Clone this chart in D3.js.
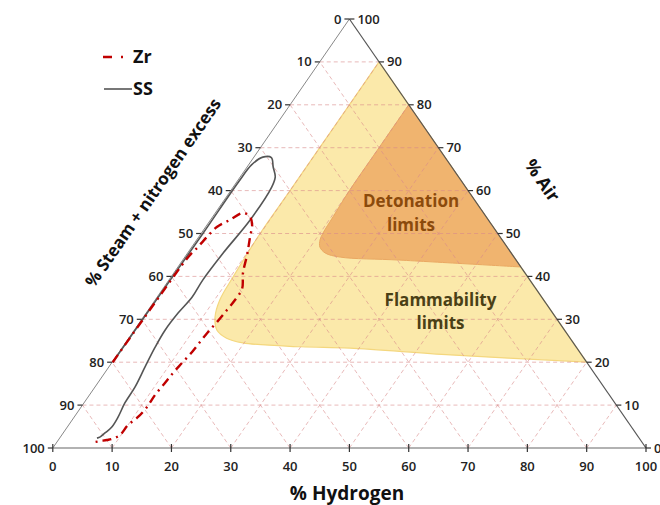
<!DOCTYPE html>
<html><head><meta charset="utf-8">
<script src="https://cdn.jsdelivr.net/npm/d3@7"></script>
<style>body{margin:0;background:#fff}svg{display:block}</style>
</head><body>
<script>
// ---- data (percent: [hydrogen, air]) ----
const tickValues = [0,10,20,30,40,50,60,70,80,90,100];
const gridLevels = [10,20,30,40,50,60,70,80,90];
const ssCurve = [[0.1,20],[0.2,35],[0.3,50],[0.3,62],[0.5,66],[1.5,67.8],[3.0,67.7],[4.4,65.5],[5.9,63.2],[6.5,60.8],[6.7,53.2],[6.0,45.5],[5.7,39.2],[5.9,35.2],[5.4,31.5],[5.2,27.5],[5.5,23.5],[6.1,18.9],[6.75,14.2],[6.9,10.5],[7.4,7.2],[7.5,4.9],[7.05,3.5],[6.7,2.6],[6.3,2.3]];
const zrCurve = [[0.1,20],[0.2,28],[0.3,35],[0.45,42.7],[0.64,45],[1.04,46.9],[1.4,49.2],[1.9,51.5],[3.3,53.2],[4.7,54.8],[6.3,53.9],[7.6,52],[8.65,49.2],[10.25,45],[11.66,40.8],[13.36,37.1],[13.46,34.5],[13.28,32.2],[13.0,29.4],[12.64,27],[12.46,24.7],[12.28,22.4],[11.87,19.8],[11.52,17.5],[11.33,15.15],[11.05,12.35],[11.1,9.56],[10.75,7.23],[10.0,5.36],[9.8,3.0],[8.9,2.1],[8.2,1.86],[7.3,1.63],[6.4,1.4]];
const flammabilityLimits = [[10,90],[10,80],[10,70],[10,60],[9.95,50],[10.45,40],[10.9,34.5],[12.1,30.5],[13.9,27.5],[16.5,25.6],[19.8,24.5],[30,23.6],[38.4,23.3],[56.2,21.7],[80,20]];
const detonationLimits = [[20,80],[20,70],[20,60],[20.3,53.9],[20.5,50.1],[20.8,48.5],[21.6,46.85],[23.2,45.45],[26.2,44.5],[36.6,43.8],[57.8,42.2]];
const legendItems = ["Zr","SS"];
const regionLabels = [["Detonation","limits"],["Flammability","limits"]];
const axisTitles = ["% Hydrogen","% Air","% Steam + nitrogen excess"];

const W=660,H=505;
const FONT = "'Open Sans', 'Noto Sans', sans-serif";
const svg = d3.select("body").append("svg").attr("width",W).attr("height",H)
  .style("font-family",FONT);
const hScale = d3.scaleLinear().domain([0,100]).range([52.8,646]);
const aScale = d3.scaleLinear().domain([0,100]).range([448,19]);
const P = d => [hScale(d[0] + d[1]/2), aScale(d[1])];
const lineLin = d3.line().x(d=>P(d)[0]).y(d=>P(d)[1]);
const lineCurve = d3.line().x(d=>P(d)[0]).y(d=>P(d)[1]).curve(d3.curveCatmullRom.alpha(0.5));

// regions
svg.append("path").attr("d", lineCurve(flammabilityLimits)+"Z")
  .attr("fill","#fbe9aa").attr("stroke","#f4d77e").attr("stroke-width",1.2);
svg.append("path").attr("d", lineCurve(detonationLimits)+"Z")
  .attr("fill","#f0b46f").attr("stroke","#eaa862").attr("stroke-width",1);

// grid
const grid = svg.append("g").attr("stroke","#d98a8a").attr("stroke-opacity",0.75)
  .attr("stroke-width",0.8).attr("stroke-dasharray","4,3").attr("fill","none");
gridLevels.forEach(v=>{
  grid.append("path").attr("d", lineLin([[0,v],[100-v,v]]));
  grid.append("path").attr("d", lineLin([[v,0],[v,100-v]]));
  grid.append("path").attr("d", lineLin([[100-v,0],[0,100-v]]));
});

// triangle edges
svg.append("path").attr("d", lineLin([[0,0],[100,0]])).attr("stroke","#666").attr("stroke-width",1.2).attr("fill","none");
svg.append("path").attr("d", lineLin([[0,0],[0,100]])).attr("stroke","#888").attr("stroke-width",1).attr("fill","none");
svg.append("path").attr("d", lineLin([[100,0],[0,100]])).attr("stroke","#555").attr("stroke-width",1.2).attr("fill","none");

// ticks and labels
const tk = svg.append("g").attr("stroke","#333").attr("stroke-width",1.2);
const lbl = svg.append("g").attr("font-size",13).attr("font-weight",600).attr("fill","#222");
tickValues.forEach(v=>{
  const [bx,by] = P([v,0]);
  tk.append("line").attr("x1",bx).attr("x2",bx).attr("y1",by-4).attr("y2",by+4);
  lbl.append("text").attr("x",bx).attr("y",by+23).attr("text-anchor","middle").text(v);
  const [lx,ly] = P([0,100-v]);
  tk.append("line").attr("x1",lx-5).attr("x2",lx).attr("y1",ly).attr("y2",ly);
  lbl.append("text").attr("x",lx-8).attr("y",ly+4.5).attr("text-anchor","end").text(v);
  const [rx,ry] = P([100-v,v]);
  tk.append("line").attr("x1",rx).attr("x2",rx+5).attr("y1",ry).attr("y2",ry);
  lbl.append("text").attr("x",rx+8).attr("y",ry+4.5).attr("text-anchor","start").text(v);
});

// curves
svg.append("path").attr("d", lineCurve(ssCurve)).attr("fill","none")
  .attr("stroke","#555").attr("stroke-width",1.6);
svg.append("path").attr("d", lineCurve(zrCurve)).attr("fill","none")
  .attr("stroke","#c00000").attr("stroke-width",2.4).attr("stroke-dasharray","9,5,2,5");

// region labels
const det = svg.append("text").attr("font-size",17).attr("font-weight",700).attr("fill","#8b4a0c").attr("text-anchor","middle");
det.append("tspan").attr("x",411).attr("y",207).text(regionLabels[0][0]);
det.append("tspan").attr("x",411).attr("y",231).text(regionLabels[0][1]);
const fl = svg.append("text").attr("font-size",17).attr("font-weight",700).attr("fill","#4a4016").attr("text-anchor","middle");
fl.append("tspan").attr("x",440.5).attr("y",306).text(regionLabels[1][0]);
fl.append("tspan").attr("x",440.5).attr("y",329).text(regionLabels[1][1]);

// axis titles
const ang = Math.atan2(aScale(0)-aScale(100), hScale(50)-hScale(0))*180/Math.PI;
svg.append("text").attr("x",347).attr("y",500).attr("text-anchor","middle")
  .attr("font-size",19).attr("font-weight",700).attr("fill","#111").text(axisTitles[0]);
svg.append("text").attr("transform",`translate(537,184) rotate(${ang})`).attr("text-anchor","middle")
  .attr("font-size",18).attr("font-weight",700).attr("fill","#111").text(axisTitles[1]);
svg.append("text").attr("transform",`translate(158,196) rotate(${-ang})`).attr("text-anchor","middle")
  .attr("font-size",17).attr("font-weight",700).attr("fill","#111").text(axisTitles[2]);

// legend
const lg = svg.append("g");
lg.append("line").attr("x1",103).attr("x2",125).attr("y1",57).attr("y2",57)
  .attr("stroke","#c00000").attr("stroke-width",2.4).attr("stroke-dasharray","9,9,2,5");
lg.append("text").attr("x",133).attr("y",63).attr("font-size",18).attr("font-weight",700).attr("fill","#111").text(legendItems[0]);
lg.append("line").attr("x1",104).attr("x2",132).attr("y1",89).attr("y2",89)
  .attr("stroke","#555").attr("stroke-width",1.6);
lg.append("text").attr("x",133).attr("y",95).attr("font-size",18).attr("font-weight",700).attr("fill","#111").text(legendItems[1]);
</script>
</body></html>
